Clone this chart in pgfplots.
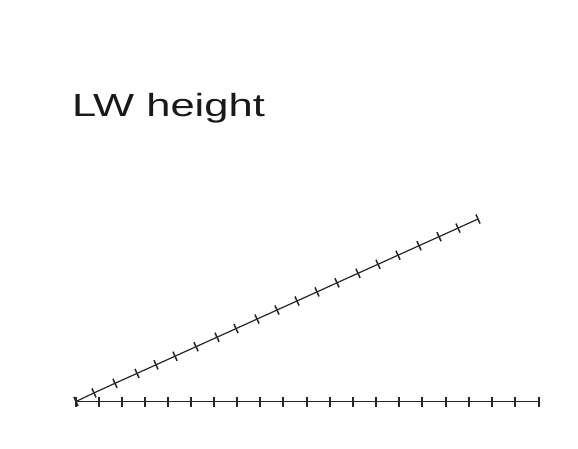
\documentclass[border=0pt]{standalone}
\usepackage{pgfplots}
\pgfplotsset{compat=1.18}
\usepackage{graphicx}
\usepackage{fontspec}
\setmainfont{Liberation Sans}
\begin{document}
\begin{tikzpicture}
\begin{axis}[
  scale only axis, width=578pt, height=448pt,
  xmin=0, xmax=578, ymin=0, ymax=448,
  axis lines=none,
  axis background/.style={fill=white},
  clip=false,
]
% horizontal scale line
\addplot[color=black!85, line width=1.2pt, mark=|, mark size=5pt,
  mark options={line width=1.5pt}] coordinates {
(76,46.5) (99,46.5) (122,46.5) (145,46.5) (168,46.5) (191,46.5) (214,46.5) (237,46.5)
(260,46.5) (283,46.5) (307,46.5) (330,46.5) (353,46.5) (376,46.5) (399,46.5) (422,46.5)
(446,46.5) (469,46.5) (492,46.5) (515,46.5) (539,46.5)
};
% slanted scale line
\addplot[color=black!85, line width=1.2pt, mark=|, mark size=5pt,
  mark options={rotate=24.4, line width=1.5pt}] coordinates {
(76,46.5) (94,55.1) (115,64.7) (137,74.6) (156,83.2) (175,91.8) (196,101.3)
(217,110.8) (236,119.4) (257,128.9) (277,138.0) (297,147.0) (317,156.1)
(337,165.2) (358,174.7) (378,183.7) (398,192.8) (419,202.3) (439,211.3)
(458,219.9) (478,229)
};
\node[anchor=base west, inner sep=0pt, text=black!90] at (axis cs:72,331)
  {\scalebox{1.36}[1]{\fontsize{32pt}{36pt}\selectfont LW height}};
\end{axis}
\end{tikzpicture}
\end{document}
